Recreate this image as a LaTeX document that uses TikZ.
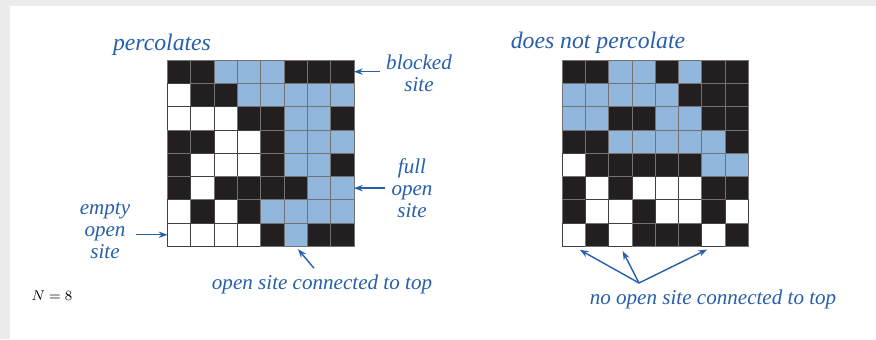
\documentclass[tikz,border=0pt]{standalone}
\usepackage{fontspec}
\setmainfont{Liberation Serif}
\usetikzlibrary{arrows.meta}
\definecolor{sitefull}{RGB}{146,183,220}
\definecolor{siteblocked}{RGB}{35,31,32}
\definecolor{labelblue}{RGB}{40,95,170}
\definecolor{cardshade}{RGB}{236,236,236}
\begin{document}
\begin{tikzpicture}[x=0.02cm,y=-0.02cm,
    cell/.style={draw=black!55,line width=0.4pt,minimum size=0.466cm,
                 inner sep=0pt,outer sep=0pt},
    cellB/.style={fill=siteblocked},
    cellF/.style={fill=sitefull},
    cellW/.style={fill=white,draw=black!75},
    note/.style={text=labelblue,align=center,
                 font=\fontsize{12}{12.5}\selectfont\itshape},
    heading/.style={note,font=\fontsize{13.5}{14}\selectfont\itshape},
    pointer/.style={-{Stealth[length=5pt,width=3.6pt]},draw=labelblue,
                    line width=0.8pt}
  ]
    % card
    \fill[cardshade] (0,0) rectangle (876,339);
    \fill[white] (10,6) rectangle (876,339);
    \useasboundingbox (0,0) rectangle (876,339);

    % left grid: percolates
    \foreach \row [count=\r] in {{B,B,F,F,F,B,B,B},{W,B,B,F,F,F,F,F},
        {W,W,W,B,B,F,F,B},{B,B,W,W,B,F,F,F},{B,W,W,W,B,F,F,B},
        {B,W,B,B,B,B,F,F},{W,B,W,B,F,F,F,F},{W,W,W,W,B,F,B,B}}{
      \foreach \c [count=\k] in \row
        \node[cell,cell\c] (L-\r-\k) at ({167.5+(\k-0.5)*23.3},{60+(\r-0.5)*23.3}) {};
    }

    % right grid: does not percolate
    \foreach \row [count=\r] in {{B,B,F,F,B,F,B,B},{F,F,F,F,F,B,B,B},
        {F,F,B,B,F,F,B,B},{B,B,F,F,F,F,F,B},{W,B,B,B,B,B,F,F},
        {B,W,B,W,W,W,B,B},{B,W,W,B,W,W,B,W},{W,B,W,B,B,B,W,B}}{
      \foreach \c [count=\k] in \row
        \node[cell,cell\c] (R-\r-\k) at ({562+(\k-0.5)*23.3},{60+(\r-0.5)*23.3}) {};
    }

    \node[heading] (perc) at (162,45) {percolates};
    \node[heading] (noperc) at (598,43) {does not percolate};
    \node[note] (blocked) at (419,73) {blocked\\site};
    \node[note] (full) at (412,188) {full\\open\\site};
    \node[note] (empty) at (105,231) {empty\\open\\site};
    \node[note] (conn) at (322,284) {open site connected to top};
    \node[note] (noconn) at (713,299) {no open site connected to top};
    \node (size) at (52,296) {\fontsize{8}{9}\selectfont$N = 8$};

    \draw[pointer] (L-1-8.east -| blocked.west) -- (L-1-8.east);
    \draw[pointer] (L-6-8.east -| full.west) -- (L-6-8.east);
    \draw[pointer] (L-8-1.west -| empty.east) -- (L-8-1.west);
    \draw[pointer,shorten >=2pt] ([xshift=-0.16cm]conn.north) -- (L-8-6.south);

    \coordinate (fan) at (639,283);
    \draw[pointer,shorten >=4pt] (fan) -- (R-8-1.south);
    \draw[pointer,shorten >=3pt] (fan) -- (R-8-3.south);
    \draw[pointer,shorten >=4pt] (fan) -- (R-8-7.south);
  \end{tikzpicture}
\end{document}
